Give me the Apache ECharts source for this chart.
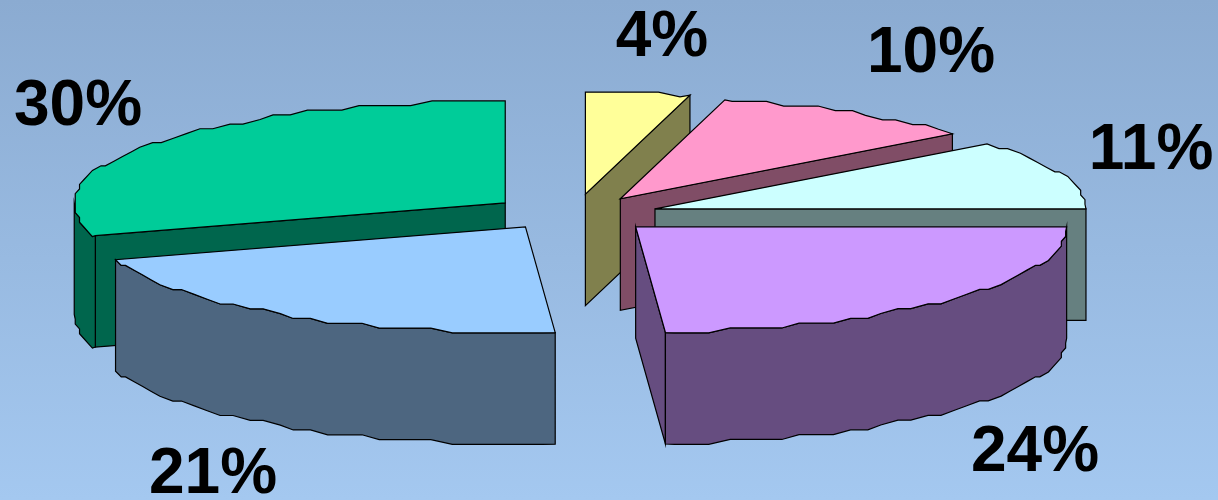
<!DOCTYPE html>
<html>
<head>
<meta charset="utf-8">
<style>html,body{margin:0;padding:0;width:1218px;height:500px;overflow:hidden}#c{width:1218px;height:500px}</style>
<script src="https://cdn.jsdelivr.net/npm/echarts@6/dist/echarts.min.js"></script>
</head>
<body>
<div id="c"></div>
<script>
// Values, clockwise from the 3 o'clock position
var shares = [23.9, 21.1, 30, 3.9, 10.1, 11];
var labels = ['24%', '21%', '30%', '4%', '10%', '11%'];

// Styles / layout
var topColors  = ['#CC99FF', '#99CCFF', '#00CC99', '#FFFF99', '#FF99CC', '#CCFFFF'];
var wallColors = ['#664D80', '#4D6680', '#00664D', '#80804D', '#804D66', '#668080'];
var paintOrder = [2, 1, 3, 4, 5, 0];
var labelCentres = [[1035, 453], [213, 475], [78, 107], [662, 38.5], [931, 54.5], [1151, 151.5]];
var apexNudge = [[-1.5, 0], [-2, -2.5], [-1, -1], [0, -2.5], [0, -0.5], [0, 0.5]];
var pie = { cx: 575, cy: 214.5, rx: 431, ryBack: 102, ryFront: 106, depth: 111.5, explodeX: 85, explodeY: 18, stepDeg: 2.5, ySteps: 22, xGrid: 4.3 };

var total = shares.reduce(function (a, b) { return a + b; }, 0);
var starts = [], acc = 0;
shares.forEach(function (v) { starts.push(acc / total * 360); acc += v; });

function rad(d) { return d * Math.PI / 180; }
function rim(apex, deg, snap) {
  var s = Math.sin(rad(deg));
  var ry = s > 0 ? pie.ryFront : pie.ryBack;
  var dy = s * ry, dx = pie.rx * Math.cos(rad(deg));
  if (snap) {
    var g = ry / pie.ySteps;
    dy = Math.round(dy / g) * g;
    dx = Math.round(dx / pie.xGrid) * pie.xGrid;
  }
  return [apex[0] + dx, apex[1] + dy];
}
function arc(apex, a0, a1) {
  var pts = [rim(apex, a0, false)];
  var first = Math.ceil((a0 + 0.5) / pie.stepDeg) * pie.stepDeg;
  for (var d = first; d < a1 - 0.5; d += pie.stepDeg) pts.push(rim(apex, d, true));
  pts.push(rim(apex, a1, false));
  return pts;
}
function down(p) { return [p[0], p[1] + pie.depth]; }
function poly(points, fill) {
  return { type: 'polygon', shape: { points: points }, style: { fill: fill, stroke: '#000', lineWidth: 1.2, lineJoin: 'miter' } };
}

function renderItem(params, api) {
  var i = api.value(0), value = api.value(1);
  var a0 = starts[i], a1 = a0 + value / total * 360, mid = (a0 + a1) / 2;
  var apex = [pie.cx + pie.explodeX * Math.cos(rad(mid)) + apexNudge[i][0], pie.cy + pie.explodeY * Math.sin(rad(mid)) + apexNudge[i][1]];
  var p0 = rim(apex, a0, false), p1 = rim(apex, a1, false), kids = [];
  if (p0[0] < apex[0] - 0.5) kids.push(poly([apex, p0, down(p0), down(apex)], wallColors[i]));
  if (apex[0] < p1[0] - 0.5) kids.push(poly([p1, apex, down(apex), down(p1)], wallColors[i]));
  var f0 = Math.max(a0, 0), f1 = Math.min(a1, 180);
  if (f1 > f0) {
    var front = arc(apex, f0, f1);
    kids.push(poly(front.concat(front.slice().reverse().map(down)), wallColors[i]));
  }
  kids.push(poly([apex].concat(arc(apex, a0, a1)), topColors[i]));
  kids.push({ type: 'text', style: {
    text: labels[i], x: labelCentres[i][0], y: labelCentres[i][1], align: 'center', verticalAlign: 'middle',
    fill: '#000', font: 'bold 64px "Liberation Sans", Arial, sans-serif' } });
  return { type: 'group', children: kids };
}

var chart = echarts.init(document.getElementById('c'));
chart.setOption({
  animation: false,
  backgroundColor: new echarts.graphic.LinearGradient(0, 0, 0, 1, [
    { offset: 0, color: '#8BABD1' }, { offset: 1, color: '#A4C8F0' }
  ]),
  series: [{
    type: 'custom',
    coordinateSystem: 'none',
    silent: true,
    clip: false,
    renderItem: renderItem,
    data: paintOrder.map(function (i) { return [i, shares[i]]; })
  }]
});
</script>
</body>
</html>
